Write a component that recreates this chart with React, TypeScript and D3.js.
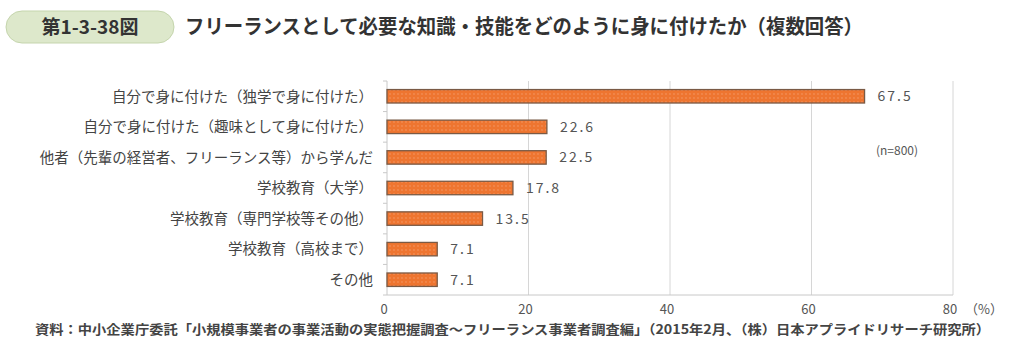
import React from "react";
import * as d3 from "d3";

const categories = [
  "自分で身に付けた（独学で身に付けた）",
  "自分で身に付けた（趣味として身に付けた）",
  "他者（先輩の経営者、フリーランス等）から学んだ",
  "学校教育（大学）",
  "学校教育（専門学校等その他）",
  "学校教育（高校まで）",
  "その他",
];
const values = [67.5, 22.6, 22.5, 17.8, 13.5, 7.1, 7.1];
const xTicks = [0, 20, 40, 60, 80];

const figNo = "第1-3-38図";
const title = "フリーランスとして必要な知識・技能をどのように身に付けたか（複数回答）";
const note = "(n=800)";
const source =
  "資料：中小企業庁委託「小規模事業者の事業活動の実態把握調査～フリーランス事業者調査編」（2015年2月、（株）日本アプライドリサーチ研究所）";

const W = 1024;
const H = 362;
const font = "'Noto Sans CJK JP', 'Noto Sans', sans-serif";

export default function App() {
  const margin = { left: 387, right: 1024 - 953, top: 81, bottom: 362 - 295 };
  const x = d3.scaleLinear().domain([0, 80]).range([margin.left, W - margin.right]);
  const y = d3
    .scaleBand()
    .domain(categories)
    .range([margin.top, H - margin.bottom])
    .paddingInner(0.56)
    .paddingOuter(0.28);
  const bottom = H - margin.bottom;

  return (
    <svg
      width={W}
      height={H}
      style={{ position: "absolute", left: 0, top: 0, background: "#fff" }}
      fontFamily={font}
    >
      <defs>
        <pattern id="dots" width="4" height="4" patternUnits="userSpaceOnUse">
          <rect width="4" height="4" fill="#ee7530" />
          <circle cx="2" cy="2" r="0.7" fill="#f6a070" />
        </pattern>
      </defs>

      {/* header */}
      <rect x={6} y={11} width={168} height={32} rx={16} fill="#dde8cb" stroke="#c5d5ad" />
      <text x={90} y={34} textAnchor="middle" fontSize={19} fontWeight={700} fill="#333">
        {figNo}
      </text>
      <text x={185} y={34} fontSize={20} fontWeight={600} fill="#333" textLength={678} lengthAdjust="spacingAndGlyphs">
        {title}
      </text>

      {/* grid */}
      {xTicks.slice(1).map((t) => (
        <line key={t} x1={x(t)} x2={x(t)} y1={margin.top} y2={bottom} stroke="#d6d6d6" />
      ))}
      <line x1={x(0)} x2={x(80)} y1={bottom} y2={bottom} stroke="#c8c8c8" />
      <line x1={x(0)} x2={x(0)} y1={margin.top} y2={bottom} stroke="#c8c8c8" />
      {d3.range(categories.length + 1).map((i) => {
        const yy = margin.top + (i * (bottom - margin.top)) / categories.length;
        return <line key={i} x1={x(0) - 4} x2={x(0)} y1={yy} y2={yy} stroke="#c8c8c8" />;
      })}

      {/* bars */}
      {categories.map((c, i) => (
        <g key={c}>
          <rect
            x={x(0)}
            y={y(c)}
            width={x(values[i]) - x(0)}
            height={y.bandwidth()}
            fill="url(#dots)"
            stroke="#7a5a45"
            strokeWidth={1.3}
          />
          <text
            x={x(0) - 14}
            y={(y(c) as number) + y.bandwidth() / 2}
            dy="0.36em"
            textAnchor="end"
            fontSize={14.5}
            fill="#444"
          >
            {c}
          </text>
          <text
            x={x(values[i]) + 13}
            y={(y(c) as number) + y.bandwidth() / 2}
            dy="0.36em"
            fontSize={14}
            fill="#555"
            letterSpacing={2}
          >
            {values[i].toFixed(1)}
          </text>
        </g>
      ))}

      <text x={897} y={155} textAnchor="middle" fontSize={12} fill="#555">
        {note}
      </text>

      {/* x axis labels */}
      {xTicks.map((t) => (
        <text key={t} x={x(t) - 3} y={314} textAnchor="middle" fontSize={13} fill="#555">
          {t}
        </text>
      ))}
      <text x={965} y={314} fontSize={13} fill="#555">（%）</text>

      <text x={35} y={334} fontSize={13} fontWeight={700} fill="#444" textLength={955} lengthAdjust="spacingAndGlyphs">
        {source}
      </text>
    </svg>
  );
}
